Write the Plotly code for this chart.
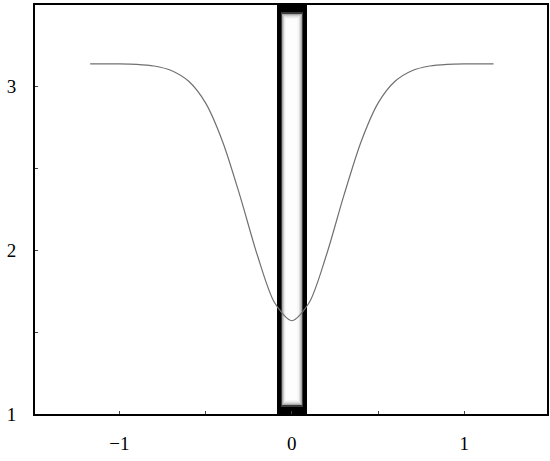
import plotly.graph_objects as go

# curve
curve_x = [-1.17, -1.0, -0.9, -0.8, -0.7, -0.6, -0.5, -0.4, -0.3, -0.2, -0.1, 0.0,
           0.1, 0.2, 0.3, 0.4, 0.5, 0.6, 0.7, 0.8, 0.9, 1.0, 1.17]
curve_y = [3.14, 3.14, 3.137, 3.127, 3.10, 3.035, 2.90, 2.66, 2.33, 1.97, 1.68, 1.57,
           1.68, 1.97, 2.33, 2.66, 2.90, 3.035, 3.10, 3.127, 3.137, 3.14, 3.14]

# vertical band (barrier) position and extent
band_center = [0.0]
band_bottom = 1.0
band_top = 3.5

x_tickvals = [-1, -0.5, 0, 0.5, 1]
x_ticktext = ["\u22121", "", "0", "", "1"]
y_tickvals = [1, 1.5, 2, 2.5, 3]
y_ticktext = ["1", "", "2", "", "3"]

fig = go.Figure()

# layered bars to imitate the shaded band (black frame, grey fading to white)
layers = [
    (0.174, 0.000, "#000000"),
    (0.128, 0.045, "#3a3a3a"),
    (0.120, 0.052, "#7a7a7a"),
    (0.112, 0.058, "#a8a8a8"),
    (0.104, 0.064, "#c8c8c8"),
    (0.096, 0.069, "#dedede"),
    (0.088, 0.074, "#ececec"),
    (0.078, 0.079, "#f6f6f6"),
    (0.064, 0.084, "#fdfdfd"),
]
for w, inset, col in layers:
    fig.add_trace(go.Bar(
        x=band_center, y=[band_top - band_bottom - 2 * inset], base=[band_bottom + inset],
        width=w, marker=dict(color=col, line=dict(width=0)),
        hoverinfo="skip", showlegend=False))

fig.add_trace(go.Scatter(
    x=curve_x, y=curve_y, mode="lines",
    line=dict(color="#707070", width=1.2, shape="spline", smoothing=0.8),
    showlegend=False))

axis_common = dict(
    showgrid=False, zeroline=False, showline=True, linecolor="black", linewidth=2,
    mirror=True, ticks="inside", ticklen=3, tickcolor="#444", tickwidth=1,
    automargin=False,
    tickfont=dict(family="Liberation Serif", size=19, color="black"),
)

fig.update_layout(
    width=550, height=461,
    margin=dict(l=35, r=3, t=5, b=47),
    paper_bgcolor="white", plot_bgcolor="white",
    barmode="overlay", bargap=0,
    xaxis=dict(range=[-1.49, 1.48], tickvals=x_tickvals, ticktext=x_ticktext,
               ticklabelstandoff=11, **axis_common),
    yaxis=dict(range=[1, 3.5], tickvals=y_tickvals, ticktext=y_ticktext,
               ticklabelstandoff=13, **axis_common),
)

fig.write_html("out.html", config={"displayModeBar": False},
               post_script="document.body.style.margin='0';")
